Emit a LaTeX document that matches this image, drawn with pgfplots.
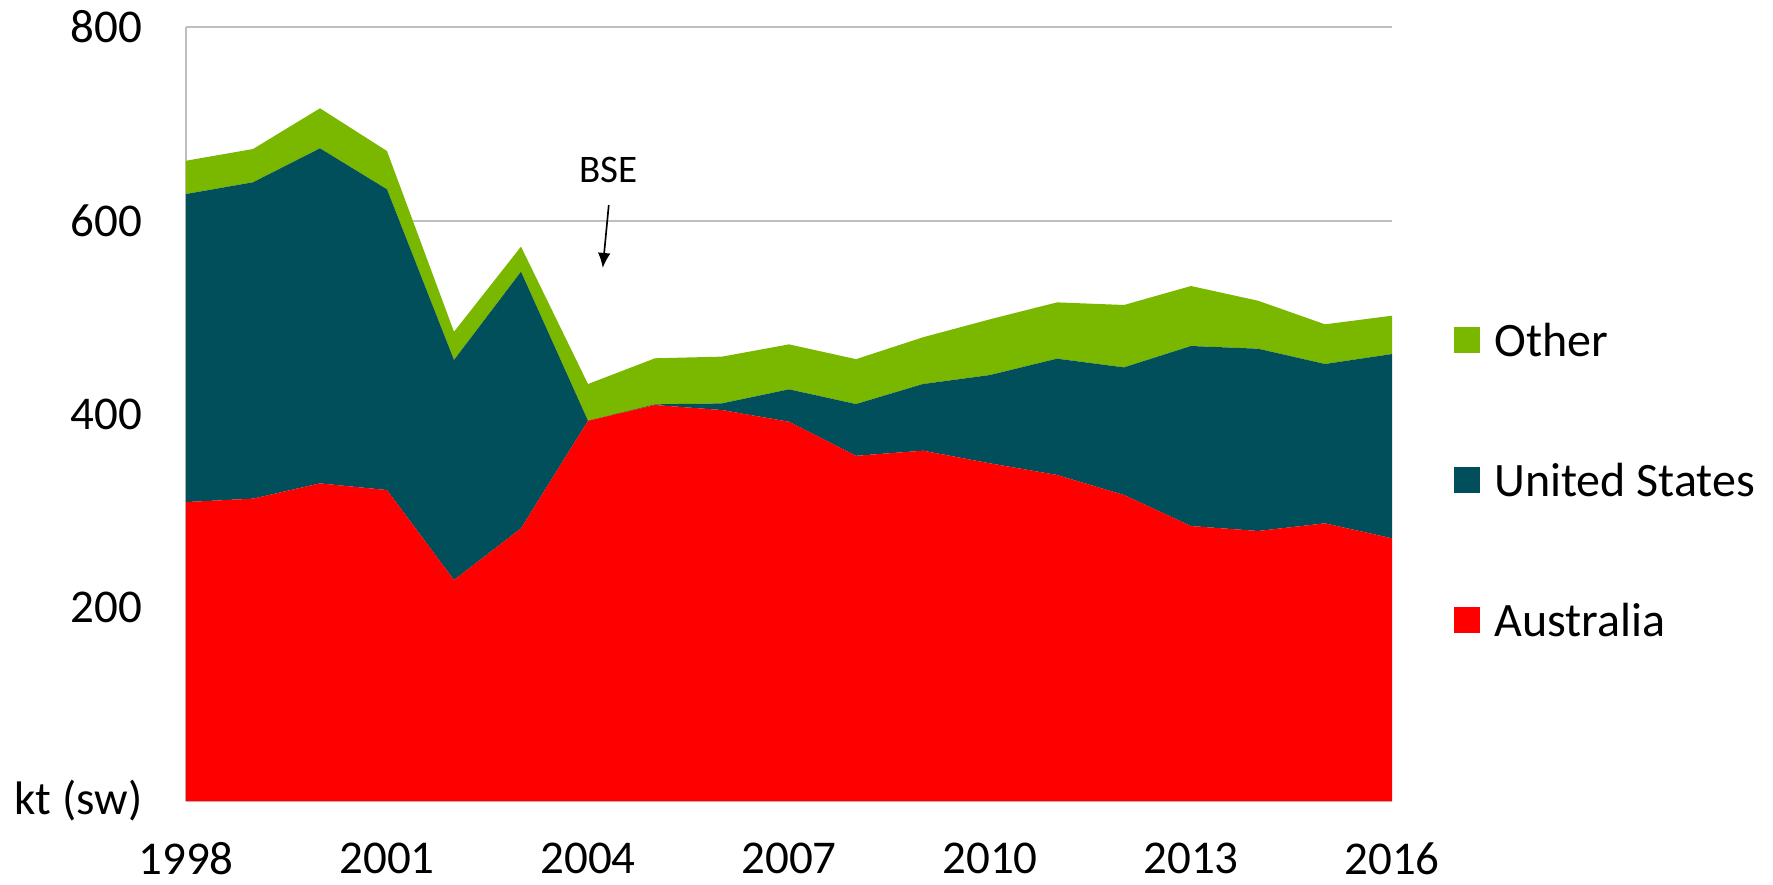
\documentclass[border=0pt]{standalone}
\usepackage{fontspec}
\setmainfont{Carlito}
\usepackage{pgfplots}
\pgfplotsset{compat=1.18}
\usetikzlibrary{arrows.meta}
\definecolor{cOther}{RGB}{122,184,0}
\definecolor{cUS}{RGB}{0,79,90}
\definecolor{cAus}{RGB}{255,0,0}
\definecolor{cGrid}{RGB}{191,191,191}
\begin{document}
\begin{tikzpicture}
\useasboundingbox (-55.8pt,-24.9pt) rectangle (476.1pt,240.3pt);
\begin{axis}[
  at={(0,0)}, anchor=south west,
  scale only axis,
  width=361.8pt, height=232.2pt,
  xmin=1998, xmax=2016, ymin=0, ymax=800,
  xtick={1998,2001,2004,2007,2010,2013,2016},
  ytick={0,200,400,600,800},
  yticklabels={kt (sw),200,400,600,800},
  xticklabel={\pgfmathprintnumber[precision=0,1000 sep={}]{\tick}},
  /pgf/number format/assume math mode=true,
  /pgf/number format/1000 sep={},
  major tick length=0pt,
  axis x line*=bottom, axis y line*=left,
  axis line style={cGrid, line width=0.6pt},
  ymajorgrids, grid style={cGrid, line width=0.6pt},
  tick label style={font=\fontsize{14.1}{16}\selectfont, text=black},
  yticklabel style={anchor=east, inner sep=0pt, xshift=-12.9pt},
  xticklabel style={anchor=north, inner sep=0pt, yshift=-12.3pt},
  stack plots=y,
  clip=false,
  reverse legend,
  legend image code/.code={\fill[#1] (0pt,-3.9pt) rectangle (7.8pt,3.9pt);},
  legend style={draw=none, fill=none, inner sep=0pt,
    at={(1.0506,0.4147)}, anchor=west,
    font=\fontsize{14.4}{16}\selectfont,
    row sep=32pt,
    nodes={inner sep=0pt, text height=10pt, text depth=0pt},
    /tikz/every odd column/.append style={column sep=4.4pt}},
  legend cell align=left,
]
\addplot[fill=cAus, draw=none] coordinates {
(1998,309.0) (1999,312.5) (2000,328.3) (2001,321.4) (2002,228.4) (2003,281.8)
(2004,393.0) (2005,409.3) (2006,404.1) (2007,392.0) (2008,356.8) (2009,362.1)
(2010,349.0) (2011,337.0) (2012,316.3) (2013,284.2) (2014,279.1) (2015,287.0)
(2016,271.5)} \closedcycle;
\addlegendentry{Australia}
\addplot[fill=cUS, draw=none] coordinates {
(1998,318.4) (1999,327.0) (2000,346.3) (2001,310.8) (2002,227.4) (2003,265.3)
(2004,0.0) (2005,0.7) (2006,6.9) (2007,33.5) (2008,53.5) (2009,68.9)
(2010,91.3) (2011,120.2) (2012,131.9) (2013,186.1) (2014,188.4) (2015,164.7)
(2016,190.5)} \closedcycle;
\addlegendentry{United States}
\addplot[fill=cOther, draw=none] coordinates {
(1998,34.4) (1999,34.4) (2000,41.4) (2001,39.6) (2002,29.2) (2003,25.9)
(2004,38.0) (2005,47.6) (2006,48.3) (2007,46.5) (2008,46.4) (2009,48.3)
(2010,57.6) (2011,58.2) (2012,64.5) (2013,62.0) (2014,49.6) (2015,41.0)
(2016,39.6)} \closedcycle;
\addlegendentry{Other}
\node[font=\fontsize{11.7}{13}\selectfont, inner sep=0pt] at (axis cs:2004.30,652) {BSE};
\draw[-{Latex[length=4.5pt,width=3.8pt]}, line width=0.5pt] (axis cs:2004.31,616) -- (axis cs:2004.22,551);
\end{axis}
\end{tikzpicture}
\end{document}
